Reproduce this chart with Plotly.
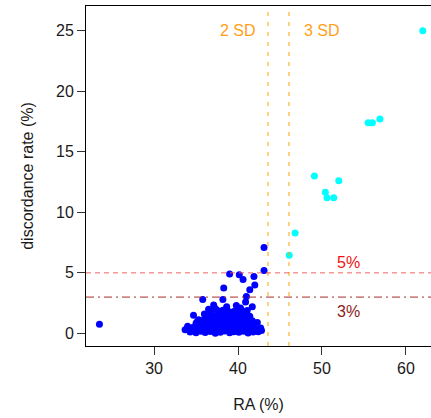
import plotly.graph_objects as go

# Blue points (below thresholds)
blue_x = [23.5, 33.7, 34.7, 35.8, 38.2, 38.3, 39.0, 40.15, 40.6, 41.9, 42.0, 41.4, 41.0, 40.9, 41.7, 37.3, 38.65, 43.1, 43.1,
          34.3, 35.0, 35.6, 36.1, 36.7, 37.3, 37.9, 38.4, 39.0, 39.5, 40.1, 40.7, 41.2, 41.8, 42.4,
          34.6, 35.3, 35.9, 36.4, 37.0, 37.6, 38.1, 38.7, 39.3, 39.8, 40.4, 41.0, 41.5, 42.1, 42.7,
          35.0, 35.6, 36.2, 36.8, 37.4, 37.9, 38.5, 39.1, 39.6, 40.2, 40.8, 41.3, 41.9,
          35.3, 36.0, 36.6, 37.2, 37.8, 38.3, 38.9, 39.4, 40.0, 40.6, 41.2, 41.7,
          36.3, 36.9, 37.5, 38.0, 38.6, 39.2, 39.8, 40.3, 40.9, 41.4,
          36.8, 37.6, 38.2, 38.8, 39.5, 40.0, 40.5, 41.1,
          35.1, 34.0, 36.0, 39.8, 40.3, 42.3, 42.8, 36.5, 37.1]
blue_y = [0.75, 0.3, 1.5, 2.8, 2.8, 3.75, 4.9, 4.85, 4.45, 4.7, 4.0, 3.6, 3.05, 2.6, 2.2, 2.05, 2.2, 7.1, 5.2,
          0.12, 0.05, 0.18, 0.08, 0.15, 0.02, 0.10, 0.20, 0.06, 0.14, 0.09, 0.17, 0.04, 0.11, 0.13,
          0.48, 0.40, 0.52, 0.44, 0.38, 0.50, 0.46, 0.42, 0.55, 0.39, 0.47, 0.51, 0.43, 0.36, 0.45,
          0.82, 0.75, 0.88, 0.79, 0.84, 0.77, 0.90, 0.81, 0.76, 0.86, 0.80, 0.73, 0.85,
          1.12, 1.18, 1.10, 1.20, 1.14, 1.08, 1.22, 1.16, 1.11, 1.19, 1.13, 1.05,
          1.48, 1.55, 1.45, 1.58, 1.50, 1.46, 1.53, 1.60, 1.49, 1.42,
          1.82, 1.88, 1.92, 1.85, 1.80, 1.95, 1.87, 1.90,
          0.95, 0.6, 1.6, 2.3, 2.1, 0.9, 0.25, 2.0, 2.35]

# Cyan points (outliers beyond 3 SD)
cyan_x = [62.0, 55.5, 56.0, 56.9, 49.1, 52.0, 50.4, 50.6, 51.4, 46.8, 46.1]
cyan_y = [25.0, 17.4, 17.4, 17.7, 13.0, 12.6, 11.65, 11.2, 11.2, 8.3, 6.45]

sd2 = 43.57
sd3 = 46.07
thr5 = 5
thr3 = 3

x_ticks = [30, 40, 50, 60]
y_ticks = [0, 5, 10, 15, 20, 25]

FONT = "Liberation Sans, Arial, Helvetica, sans-serif"

fig = go.Figure()
fig.add_trace(go.Scatter(x=blue_x, y=blue_y, mode="markers",
                         marker=dict(color="#0000FF", size=7, line=dict(width=0)),
                         showlegend=False, hoverinfo="skip"))
fig.add_trace(go.Scatter(x=cyan_x, y=cyan_y, mode="markers",
                         marker=dict(color="#00FFFF", size=7, line=dict(width=0)),
                         showlegend=False, hoverinfo="skip"))

fig.add_vline(x=sd2, line=dict(color="#FFA500", width=1, dash="4px,6px"))
fig.add_vline(x=sd3, line=dict(color="#FFA500", width=1, dash="4px,6px"))
fig.add_hline(y=thr5, line=dict(color="rgba(240,80,80,0.9)", width=1, dash="5px,4px"))
fig.add_hline(y=thr3, line=dict(color="#A52A2A", width=1, dash="8px,4px,2px,4px"))

annos = [
    dict(x=40, y=25, text="2 SD", font=dict(color="#FF9F1A", size=16, family=FONT)),
    dict(x=50, y=25, text="3 SD", font=dict(color="#FF9F1A", size=16, family=FONT)),
    dict(x=53.1, y=5.86, text="5%", font=dict(color="#EE1111", size=16, family=FONT)),
    dict(x=53.1, y=1.8, text="3%", font=dict(color="#8B1A1A", size=16, family=FONT)),
]
for a in annos:
    fig.add_annotation(xref="x", yref="y", showarrow=False, xanchor="center", yanchor="middle", **a)

fig.update_layout(
    width=431, height=418,
    margin=dict(l=86, r=0, t=6, b=72),
    paper_bgcolor="white", plot_bgcolor="white",
    font=dict(family=FONT, size=16, color="#1a1a1a"),
    xaxis=dict(range=[21.9, 62.98], tickvals=x_ticks, ticks="outside", ticklen=8,
               tickcolor="#333333", showline=True, linecolor="black", linewidth=1, mirror=True,
               showgrid=False, zeroline=False,
               title=dict(text="RA (%)", standoff=22, font=dict(size=16)),
               tickfont=dict(size=16)),
    yaxis=dict(range=[-1.04, 27.04], tickvals=y_ticks, ticks="outside", ticklen=8,
               tickcolor="#333333", showline=True, linecolor="black", linewidth=1,
               showgrid=False, zeroline=False,
               title=dict(text="discordance rate (%)", standoff=18, font=dict(size=16)),
               tickfont=dict(size=16)),
)

fig.write_html("out.html")
